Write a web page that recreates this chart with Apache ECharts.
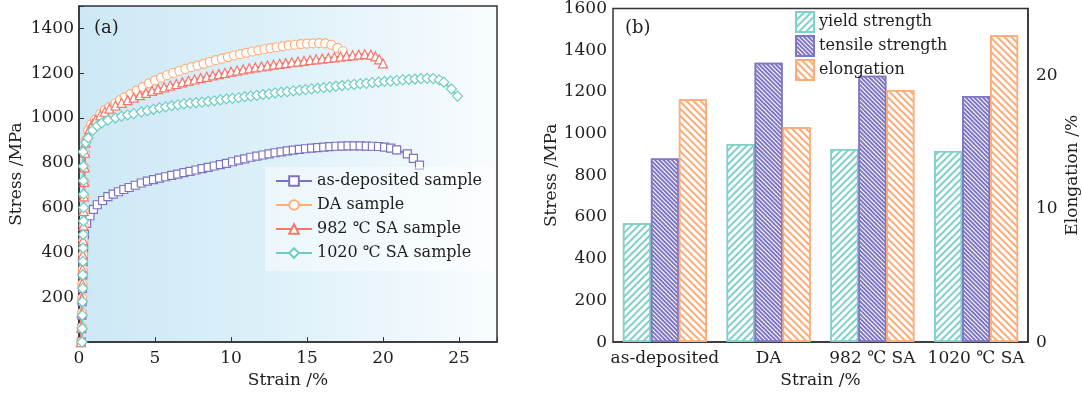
<!DOCTYPE html>
<html><head><meta charset="utf-8">
<script src="https://cdn.jsdelivr.net/npm/echarts@6/dist/echarts.min.js"></script>
<style>html,body{margin:0;padding:0;background:#fff}#c{width:1082px;height:394px}</style>
</head><body><div id="c"></div>
<script>
// ---- Panel (a): stress-strain curves [strain %, stress MPa] ----
const asDeposited = [[0.15,0],[0.17,60],[0.19,120],[0.21,180],[0.23,240],[0.25,300],[0.27,360],[0.30,420],[0.36,480],[0.5,530],[0.72,564],[0.95,592],[1.2,613],[1.55,632],[1.9,649],[2.25,660],[2.6,671],[2.95,681],[3.3,690],[3.7,700],[4.1,710],[4.5,718],[4.9,725],[5.3,732],[5.7,738],[6.1,744],[6.5,750],[6.9,756],[7.3,762],[7.7,768],[8.1,774],[8.5,780],[8.9,786],[9.3,792],[9.7,798],[10.1,805],[10.5,812],[10.9,818],[11.3,825],[11.7,830],[12.1,835],[12.5,840],[12.9,845],[13.3,849],[13.7,853],[14.1,857],[14.5,860],[14.9,863],[15.3,866],[15.7,868],[16.1,870],[16.5,872],[16.9,874],[17.3,875],[17.7,876],[18.1,876],[18.5,876],[18.9,875],[19.3,874],[19.7,873],[20.1,870],[20.5,866],[20.9,858],[21.6,840],[22.0,820],[22.4,790]];
const daSample = [[0.15,0],[0.17,65],[0.19,130],[0.21,195],[0.23,260],[0.25,325],[0.27,390],[0.29,455],[0.31,520],[0.33,585],[0.35,650],[0.36,715],[0.38,780],[0.40,845],[0.45,900],[0.6,945],[0.8,972],[1.05,992],[1.4,1018],[1.7,1035],[2.0,1048],[2.4,1066],[2.7,1080],[3.0,1092],[3.4,1107],[3.8,1122],[4.2,1138],[4.6,1155],[5.0,1168],[5.4,1180],[5.8,1191],[6.2,1201],[6.6,1210],[7.0,1219],[7.4,1227],[7.8,1234],[8.2,1242],[8.6,1250],[9.0,1258],[9.4,1265],[9.8,1272],[10.2,1279],[10.6,1285],[11.0,1291],[11.4,1297],[11.8,1302],[12.2,1307],[12.6,1312],[13.0,1316],[13.4,1320],[13.8,1324],[14.2,1327],[14.6,1330],[15.0,1332],[15.4,1333],[15.8,1334],[16.2,1333],[16.6,1327],[17.0,1313],[17.35,1298]];
const sa982 = [[0.13,0],[0.15,65],[0.17,130],[0.19,195],[0.21,260],[0.23,325],[0.25,390],[0.27,455],[0.29,520],[0.31,585],[0.33,650],[0.35,715],[0.37,780],[0.40,845],[0.44,890],[0.55,925],[0.7,952],[0.9,975],[1.1,992],[1.4,1012],[1.7,1028],[2.0,1042],[2.4,1056],[2.8,1068],[3.2,1080],[3.6,1091],[4.0,1102],[4.4,1112],[4.8,1121],[5.2,1129],[5.6,1137],[6.0,1145],[6.4,1152],[6.8,1159],[7.2,1166],[7.6,1172],[8.0,1178],[8.4,1184],[8.8,1190],[9.2,1196],[9.6,1201],[10.0,1207],[10.4,1212],[10.8,1217],[11.2,1222],[11.6,1226],[12.0,1230],[12.4,1234],[12.8,1238],[13.2,1242],[13.6,1245],[14.0,1249],[14.4,1252],[14.8,1255],[15.2,1259],[15.6,1262],[16.0,1265],[16.4,1268],[16.8,1271],[17.2,1274],[17.6,1277],[18.0,1280],[18.4,1283],[18.8,1285],[19.2,1283],[19.5,1275],[19.75,1262],[20.0,1244]];
const sa1020 = [[0.2,0],[0.21,60],[0.22,120],[0.23,180],[0.24,240],[0.25,300],[0.26,360],[0.27,420],[0.28,480],[0.29,540],[0.30,600],[0.30,660],[0.29,720],[0.28,785],[0.27,849],[0.45,890],[0.6,911],[0.9,945],[1.2,965],[1.5,978],[1.9,990],[2.4,1000],[2.8,1008],[3.2,1014],[3.6,1020],[4.1,1027],[4.5,1033],[4.9,1039],[5.3,1045],[5.7,1050],[6.1,1055],[6.5,1059],[6.9,1063],[7.3,1066],[7.7,1069],[8.1,1071],[8.5,1074],[8.9,1077],[9.3,1081],[9.7,1085],[10.1,1088],[10.5,1091],[10.9,1095],[11.3,1098],[11.7,1101],[12.1,1105],[12.5,1108],[12.9,1112],[13.3,1115],[13.7,1118],[14.1,1121],[14.5,1124],[14.9,1127],[15.3,1130],[15.7,1133],[16.1,1136],[16.5,1139],[16.9,1142],[17.3,1145],[17.7,1148],[18.1,1150],[18.5,1153],[18.9,1155],[19.3,1158],[19.7,1160],[20.1,1163],[20.5,1165],[20.9,1168],[21.3,1170],[21.7,1172],[22.1,1174],[22.5,1176],[22.9,1177],[23.3,1176],[23.7,1170],[24.0,1160],[24.5,1130],[24.9,1098]];
const curveNames = ['as-deposited sample','DA sample','982 ℃ SA sample','1020 ℃ SA sample'];

// ---- Panel (b): bars ----
const barCategories = ['as-deposited','DA','982 ℃ SA','1020 ℃ SA'];
const yieldStrength = [570, 950, 926, 917];     // MPa
const tensileStrength = [880, 1340, 1278, 1180]; // MPa
const elongation = [18.2, 16.1, 18.9, 23.0];     // %
const barNames = ['yield strength','tensile strength','elongation'];

const FONT = 'DejaVu Serif';
const TXT = '#1e1e1e';
const AX = '#333';
const cPurple = '#7c73c0', cOrange = '#ffae7a', cRed = '#f6766b', cTeal = '#6fcdc2';
const bTeal = '#7fd0c7', bPurple = '#7f77c4', bOrange = '#ffab77';

const chart = echarts.init(document.getElementById('c'), null, {renderer:'canvas'});

function lineSeries(name, data, color, symbol, size){
  return {
    name, type:'line', data, xAxisIndex:0, yAxisIndex:0,
    symbol, symbolSize: size, showAllSymbol: true,
    lineStyle:{color, width:2},
    itemStyle:{color:'#fff', borderColor:color, borderWidth:1.2},
    emphasis:{disabled:true}
  };
}
function barSeries(name, data, color, yIdx, rot, dash){
  return {
    name, type:'bar', data, xAxisIndex:1, yAxisIndex:yIdx,
    barWidth: 28, barGap:'0%',
    itemStyle:{color:'#fff', borderColor:color, borderWidth:1.5,
      decal:{symbol:'rect', symbolSize:1, color, dashArrayX:[1,0], dashArrayY:dash, rotation:rot}},
    emphasis:{disabled:true}
  };
}
const axisNameStyle = {fontFamily:FONT, fontSize:17, color:TXT};
const labelStyle = {fontFamily:FONT, fontSize:17, color:TXT};
const legendText = {fontFamily:FONT, fontSize:16, color:TXT};

chart.setOption({
  animation:false,
  textStyle:{fontFamily:FONT},
  grid:[
    {left:79, right:585, top:6, bottom:50, show:true, borderColor:AX, borderWidth:1.5,
     backgroundColor:{type:'linear', x:0, y:0, x2:1, y2:0,
       colorStops:[{offset:0,color:'#cde8f5'},{offset:0.45,color:'#dcf0f9'},{offset:1,color:'#f9fcfe'}]}},
    {left:613, right:54, top:7, bottom:50, show:true, borderColor:AX, borderWidth:1.5, backgroundColor:'transparent'}
  ],
  xAxis:[
    {type:'value', gridIndex:0, min:0, max:27.5, interval:5,
     name:'Strain /%', nameLocation:'middle', nameGap:24, nameTextStyle:axisNameStyle,
     axisLine:{lineStyle:{color:AX, width:1.5}}, axisTick:{inside:true, length:5, lineStyle:{color:AX}},
     axisLabel:Object.assign({margin:8, formatter:v=> v>26?'':String(v)}, labelStyle), splitLine:{show:false}},
    {type:'category', gridIndex:1, data:barCategories,
     name:'Strain /%', nameLocation:'middle', nameGap:24, nameTextStyle:axisNameStyle,
     axisLine:{lineStyle:{color:AX, width:1.5}}, axisTick:{show:false},
     axisLabel:Object.assign({margin:8, interval:0}, labelStyle)}
  ],
  yAxis:[
    {type:'value', gridIndex:0, min:0, max:1500, interval:200,
     name:'Stress /MPa', nameLocation:'middle', nameGap:54, nameTextStyle:axisNameStyle,
     axisLine:{lineStyle:{color:AX, width:1.5}}, axisTick:{inside:true, length:5, lineStyle:{color:AX}},
     axisLabel:Object.assign({margin:5, formatter:v=> (v===0||v>1450)?'':String(v)}, labelStyle), splitLine:{show:false}},
    {type:'value', gridIndex:1, min:0, max:1600, interval:200,
     name:'Stress /MPa', nameLocation:'middle', nameGap:47, nameTextStyle:axisNameStyle,
     axisLine:{lineStyle:{color:AX, width:1.5}}, axisTick:{inside:true, length:5, lineStyle:{color:AX}},
     axisLabel:Object.assign({margin:6, formatter:v=>String(v)}, labelStyle), splitLine:{show:false}},
    {type:'value', gridIndex:1, position:'right', min:0, max:25, interval:10,
     name:'Elongation /%', nameLocation:'middle', nameGap:36, nameTextStyle:axisNameStyle,
     axisLine:{show:true, lineStyle:{color:AX, width:1.5}}, axisTick:{inside:true, length:5, lineStyle:{color:AX}},
     axisLabel:Object.assign({margin:8, formatter:v=> v>24?'':String(v)}, labelStyle), splitLine:{show:false}}
  ],
  legend:[
    {data:curveNames, left:265, top:167, orient:'vertical', itemWidth:36, itemHeight:12, itemGap:8,
     padding:[6,12,10,10], backgroundColor:'rgba(255,255,255,0.45)', textStyle:legendText, selectedMode:false},
    {data:barNames, left:793, top:9, orient:'vertical', itemWidth:18, itemHeight:20, itemGap:2,
     padding:[2,2,2,2], textStyle:legendText, icon:'rect', selectedMode:false}
  ],
  graphic:[
    {type:'text', left:94, top:19, style:{text:'(a)', font:'18px "DejaVu Serif"', fill:TXT}},
    {type:'text', left:625, top:19, style:{text:'(b)', font:'18px "DejaVu Serif"', fill:TXT}}
  ],
  series:[
    lineSeries(curveNames[0], asDeposited, cPurple, 'rect', 8),
    lineSeries(curveNames[1], daSample, cOrange, 'circle', 9),
    lineSeries(curveNames[2], sa982, cRed, 'triangle', 9),
    lineSeries(curveNames[3], sa1020, cTeal, 'diamond', 10),
    barSeries(barNames[0], yieldStrength, bTeal, 1, -Math.PI/4, [1.2, 2.6]),
    barSeries(barNames[1], tensileStrength, bPurple, 1, Math.PI/4, [1.2, 1]),
    barSeries(barNames[2], elongation, bOrange, 2, Math.PI/4, [1.3, 2.4])
  ]
});
</script></body></html>
